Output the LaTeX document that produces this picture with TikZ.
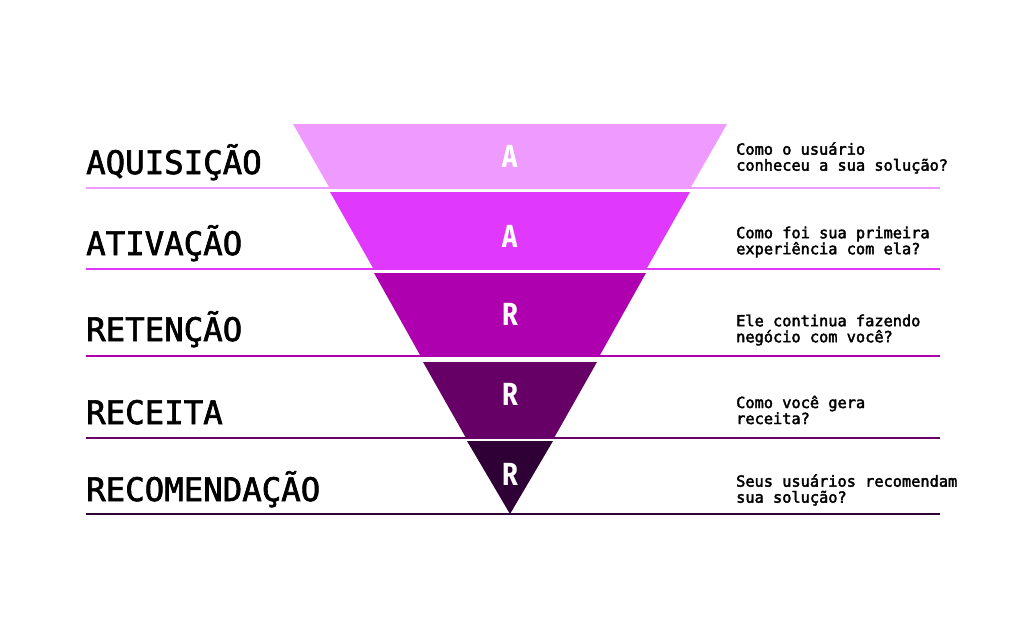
\documentclass[tikz,border=0pt]{standalone}
\usepackage{fontspec}
\newfontfamily\etapafont[FakeBold=2]{DejaVu Sans Mono}
\newfontfamily\perguntafont[FakeBold=2.5]{DejaVu Sans Mono}
\newfontfamily\letrafont{Fira Sans}
\usetikzlibrary{positioning}
\definecolor{Nivel1}{HTML}{EE9AFE}
\definecolor{Nivel2}{HTML}{E038FC}
\definecolor{Nivel3}{HTML}{AF00AF}
\definecolor{Nivel4}{HTML}{660066}
\definecolor{Nivel5}{HTML}{2E0035}
\newcommand{\estreita}[1]{\scalebox{0.8}[1]{#1}}
\tikzset{
    etapa/.style={anchor=base west, inner sep=0pt, text=black, font=\etapafont\fontsize{32.4}{34}\selectfont},
    pergunta/.style={anchor=west, inner sep=0pt, align=left, text=black, font=\perguntafont\fontsize{15.3}{16}\selectfont},
    letra/.style={inner sep=0pt, text=white, font=\letrafont\bfseries\fontsize{32}{32}\selectfont},
    divisor/.style={line width=2pt},
}
\begin{document}
\begin{tikzpicture}[x=1pt, y=-1pt]
                % Moldura
                \useasboundingbox[fill=white] (0,0) rectangle (1024,641);

                % Funil: cinco faixas separadas
                \fill[Nivel1] (293,124) -- (727,124) -- (691,187) -- (329,187) -- cycle;
                \fill[Nivel2] (330,192) -- (690,192) -- (647,268) -- (373,268) -- cycle;
                \fill[Nivel3] (374,273) -- (646,273) -- (600,355) -- (420,355) -- cycle;
                \fill[Nivel4] (423,362) -- (597,362) -- (554,438) -- (466,438) -- cycle;
                \fill[Nivel5] (467,441) -- (553,441) -- (510,514) -- cycle;

                % Linhas divisorias
                \draw[divisor, Nivel1] (86,188) -- (940,188);
                \draw[divisor, Nivel2] (86,269) -- (940,269);
                \draw[divisor, Nivel3] (86,356) -- (940,356);
                \draw[divisor, Nivel4] (86,438) -- (940,438);
                \draw[divisor, Nivel5] (86,514) -- (940,514);

                % Letras AARRR
                \node[letra] (letraA1) at (510,156) {\estreita{A}};
                \node[letra] (letraA2) at (510,236) {\estreita{A}};
                \node[letra] (letraR1) at (510,314) {\estreita{R}};
                \node[letra] (letraR2) at (510,394) {\estreita{R}};
                \node[letra] (letraR3) at (510,474) {\estreita{R}};

                % Etapas
                \node[etapa] (aquisicao) at (86,174) {AQUISIÇÃO};
                \node[etapa] (ativacao) at (86,255) {ATIVAÇÃO};
                \node[etapa] (retencao) at (86,341) {RETENÇÃO};
                \node[etapa] (receita) at (86,424) {RECEITA};
                \node[etapa] (recomendacao) at (86,501) {RECOMENDAÇÃO};

                % Perguntas
                \node[pergunta] (pergAquisicao) at (736,158) {Como o usuário\\conheceu a sua solução?};
                \node[pergunta] (pergAtivacao) at (736,242) {Como foi sua primeira\\experiência com ela?};
                \node[pergunta] (pergRetencao) at (736,330) {Ele continua fazendo\\negócio com você?};
                \node[pergunta] (pergReceita) at (736,410) {Como você gera\\receita?};
                \node[pergunta] (pergRecomendacao) at (736,490) {Seus usuários recomendam\\sua solução?};

            \end{tikzpicture}
\end{document}
